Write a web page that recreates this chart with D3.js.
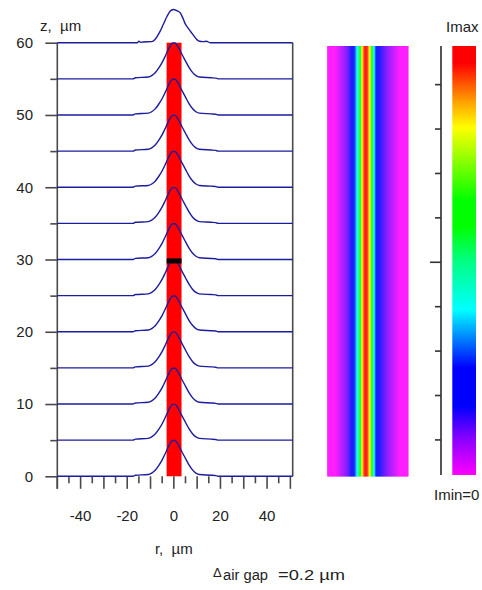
<!DOCTYPE html>
<html><head><meta charset="utf-8">
<script src="https://cdn.jsdelivr.net/npm/d3@7"></script>
<style>body{margin:0;background:#fff}svg{display:block;font-family:"Liberation Sans",Arial,sans-serif}text{white-space:pre}</style>
</head><body><svg id="c" width="482" height="590"></svg>
<script>
// ---- data ----
const zLevels = [0,5,10,15,20,25,30,35,40,45,50,55,60];
const zTickLabels = [0,10,20,30,40,50,60];
const rTicksMajor = [-50,-40,-30,-20,-10,0,10,20,30,40,50];
const rTicksMinor = [-45,-35,-25,-15,-5,5,15,25,35,45];
const rTickLabels = [-40,-20,0,20,40];
// normalized intensity profile (z = 0..55)
const profileR = [-50,-17.5,-16.5,-11,-9.5,-8,-6.5,-5,-3.5,-2,-0.5,0.5,2,3.5,5,6.5,8,9.5,11,16,18,19,51];
const profileI = [0,0,0.03,0.05,0.09,0.17,0.3,0.46,0.66,0.87,1,1,0.87,0.68,0.5,0.32,0.18,0.09,0.05,0.03,0.02,0,0];
// top profile (z = 60)
const topR = [-50,-15.6,-15,-14.2,-13.2,-9.5,-8.2,-7.2,-5.8,-4.6,-2.9,-1.6,-0.2,1.2,2.7,3.8,4.8,6.2,7.8,10,11,12.5,14,15.6,51];
const topI = [0,0,0.04,0.01,0.02,0.03,0.08,0.17,0.33,0.5,0.74,0.88,0.93,0.9,0.84,0.7,0.54,0.4,0.26,0.08,0.04,0.03,0.04,0,0];
const peakZ = 4.95;               // z-units per unit intensity
const coreR = [-3.1, 3.3];        // red core extent (um)
const coreZ = [0, 60];
const markZ = [29.45, 30.15];     // black mark
// colour map (intensity level across r)
const mapR = [-50,-40.5,-34,-23,-19,-15.8,-13.3,-10.9,-9,-7.2,-5.3,-2.8,-1,0.9,2.7,5.2,7.7,10.1,11.7,13.8,21.2,31,39.8,50];
const mapLevel = [0,0,0.04,0.12,0.2,0.28,0.385,0.5,0.61,0.81,0.9,1,0.97,0.88,0.8,0.61,0.4,0.26,0.2,0.16,0.11,0.05,0,0];
// colour bar
const cbarLevels = [0,0.09,0.16,0.25,0.385,0.5,0.58,0.64,0.81,0.87,0.96,1];
const cbarColors = ["#ff00ff","#8000ff","#0000ff","#0000ff","#00ffff","#00ff80","#00ff00","#00ff00","#ffff00","#ffa000","#ff0000","#ff0000"];
const cbarTicks = [1,2,3,4,5,6,7,8,9];

// ---- scales ----
const svg = d3.select("#c");
const x = d3.scaleLinear([-50,51],[57.3,292.7]);
const y = d3.scaleLinear([0,60],[476.3,42.7]);
const color = d3.scaleLinear(cbarLevels, cbarColors);
const axisCol = "#4a4a4a";

// red core
svg.append("rect").attr("x",x(coreR[0])).attr("y",y(coreZ[1]))
  .attr("width",x(coreR[1])-x(coreR[0])).attr("height",y(coreZ[0])-y(coreZ[1]))
  .attr("fill","#ff0000");

// axes
const yAxis = d3.axisLeft(y).tickValues(zLevels).tickSize(0).tickFormat("");
const gy = svg.append("g").attr("transform",`translate(${x(-50)},0)`).call(yAxis);
gy.select(".domain").attr("stroke",axisCol).attr("stroke-width",1.6).attr("d",`M0,${y(60)}V${y(0)+12.5}`);
gy.selectAll(".tick line").remove();
gy.selectAll(".tick").append("line").attr("x2", d => (d % 10 === 0) ? -12 : -7)
  .attr("stroke",axisCol).attr("stroke-width",1.6);
svg.append("g").selectAll("text").data(zTickLabels).join("text")
  .attr("x",33).attr("y",d=>y(d)).attr("dy","0.36em").attr("text-anchor","end")
  .attr("font-size",15).attr("fill","#222").text(d=>d);

svg.append("line").attr("x1",x(51)).attr("x2",x(51)).attr("y1",y(60)).attr("y2",y(0))
  .attr("stroke",axisCol).attr("stroke-width",1.6);

const gx = svg.append("g").attr("transform",`translate(0,${y(0)})`);
gx.selectAll("line.maj").data(rTicksMajor).join("line").attr("class","maj")
  .attr("x1",d=>x(d)).attr("x2",d=>x(d)).attr("y1",0).attr("y2",12.5)
  .attr("stroke",axisCol).attr("stroke-width",1.6);
gx.selectAll("line.min").data(rTicksMinor).join("line").attr("class","min")
  .attr("x1",d=>x(d)).attr("x2",d=>x(d)).attr("y1",0).attr("y2",7)
  .attr("stroke",axisCol).attr("stroke-width",1.6);
gx.selectAll("text").data(rTickLabels).join("text")
  .attr("x",d=>x(d)).attr("y",45).attr("text-anchor","middle")
  .attr("font-size",15).attr("fill","#222").text(d=>d);

// profiles
const line = d3.line().x(d=>x(d[0])).y(d=>y(d[1])).curve(d3.curveMonotoneX);
zLevels.forEach(z => {
  const rr = z === 60 ? topR : profileR;
  const ii = z === 60 ? topI : profileI;
  const pts = rr.map((r,k)=>[r, z + ii[k]*peakZ]);
  svg.append("path").attr("d",line(pts)).attr("fill","none")
    .attr("stroke","#1c1c9e").attr("stroke-width",1.4);
});
// black mark on top
svg.append("rect").attr("x",x(coreR[0])).attr("y",y(markZ[1]))
  .attr("width",x(coreR[1])-x(coreR[0])).attr("height",y(markZ[0])-y(markZ[1]))
  .attr("fill","#000");

// labels
svg.append("text").attr("x",40).attr("y",31).attr("font-size",15).attr("fill","#222").text("z,  µm");
svg.append("text").attr("x",x(0)).attr("y",554).attr("text-anchor","middle").attr("font-size",15).attr("fill","#222").text("r,  µm");
svg.append("text").attr("x",213).attr("y",577).attr("font-size",13).attr("fill","#222").text("Δ");
svg.append("text").attr("x",223).attr("y",580).attr("font-size",14).attr("fill","#222")
  .attr("textLength",45).attr("lengthAdjust","spacingAndGlyphs").text("air gap");
svg.append("text").attr("x",278).attr("y",580).attr("font-size",14).attr("fill","#222")
  .attr("textLength",67).attr("lengthAdjust","spacingAndGlyphs").text("=0.2 µm");

// colour map
const mx = d3.scaleLinear([-50,50],[327.3,408.3]);
const my = [46,476.5];
const lev = d3.scaleLinear(mapR, mapLevel);
const cols = d3.range(mx.range()[0], mx.range()[1], 0.5);
svg.append("g").selectAll("rect").data(cols).join("rect")
  .attr("x",d=>d).attr("y",my[0]).attr("width",0.7).attr("height",my[1]-my[0])
  .attr("fill",d=>color(lev(mx.invert(d+0.25))));

// colour bar
const cy = d3.scaleLinear([0,1],[475,46]);
const grad = svg.append("defs").append("linearGradient").attr("id","cb")
  .attr("x1",0).attr("y1",1).attr("x2",0).attr("y2",0);
grad.selectAll("stop").data(cbarLevels).join("stop")
  .attr("offset",d=>d).attr("stop-color",(d,i)=>cbarColors[i]);
svg.append("rect").attr("x",452.3).attr("y",cy(1)).attr("width",23.7).attr("height",cy(0)-cy(1)).attr("fill","url(#cb)");
const ct = d3.scaleLinear([0.21,9.87],[475,46]);
svg.append("line").attr("x1",441).attr("x2",441).attr("y1",ct(9.87)).attr("y2",ct(0.21))
  .attr("stroke","#555").attr("stroke-width",2);
svg.append("g").selectAll("line").data(cbarTicks).join("line")
  .attr("x1",d=> d===5 ? 430 : 435).attr("x2",441).attr("y1",d=>ct(d)).attr("y2",d=>ct(d))
  .attr("stroke","#333").attr("stroke-width",1.6);
svg.append("text").attr("x",446).attr("y",32).attr("font-size",15).attr("fill","#222").text("Imax");
svg.append("text").attr("x",434).attr("y",500).attr("font-size",15).attr("fill","#222").text("Imin=0");
</script></body></html>
